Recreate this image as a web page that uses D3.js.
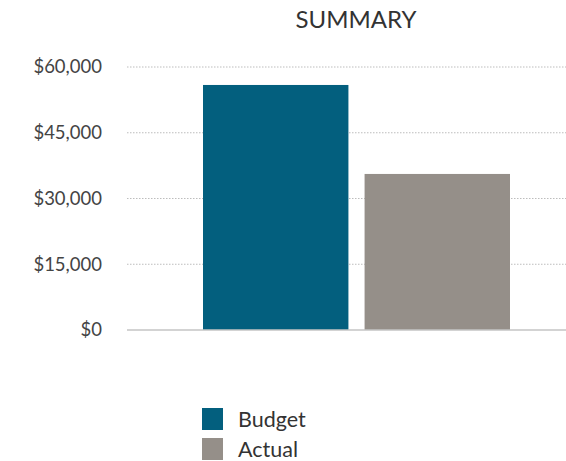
<!DOCTYPE html>
<html lang="en">
<head>
<meta charset="UTF-8">
<title>Summary</title>
<script src="https://d3js.org/d3.v7.min.js"></script>
<style>
  body { margin: 0; background: #fff; }
  text { font-family: Lato, "Open Sans", sans-serif; }
</style>
</head>
<body>
<script>
    // data
    var categories = ["Budget", "Actual"];
    var values = [55900, 35600];
    var colors = ["#035f7e", "#958f89"];
    var tickValues = [0, 15000, 30000, 45000, 60000];

    var width = 566, height = 461;

    var svg = d3.select("body").append("svg")
        .attr("width", width)
        .attr("height", height);

    var y = d3.scaleLinear().domain([0, 60000]).range([330, 67]);
    var x = d3.scaleBand().domain(categories).range([203, 510]).paddingInner(0.1).paddingOuter(0);

    // title
    svg.append("text")
        .attr("x", 356).attr("y", 28)
        .attr("text-anchor", "middle")
        .attr("font-size", 24)
        .attr("fill", "#333")
        .text("SUMMARY");

    // gridlines + labels
    var yAxis = svg.append("g")
        .attr("transform", "translate(127,0)")
        .call(d3.axisLeft(y).tickValues(tickValues).tickSize(0).tickPadding(25)
            .tickFormat(function (d) { return "$" + d3.format(",")(d); }));
    yAxis.select(".domain").remove();
    yAxis.selectAll("text")
        .attr("font-size", 18.5)
        .attr("fill", "#444")
        .attr("font-family", "Lato, sans-serif");

    svg.append("g").selectAll("line")
        .data(tickValues.filter(function (d) { return d > 0; }))
        .join("line")
        .attr("x1", 127).attr("x2", width)
        .attr("y1", function (d) { return y(d); })
        .attr("y2", function (d) { return y(d); })
        .attr("stroke", "#bdbdbd")
        .attr("stroke-width", 1)
        .attr("stroke-dasharray", "1.5,1.5");

    // bars
    svg.append("g").selectAll("rect")
        .data(values)
        .join("rect")
        .attr("x", function (d, i) { return x(categories[i]); })
        .attr("width", x.bandwidth())
        .attr("y", function (d) { return y(d); })
        .attr("height", function (d) { return y(0) - y(d); })
        .attr("fill", function (d, i) { return colors[i]; });

    // baseline
    svg.append("line")
        .attr("x1", 127).attr("x2", width)
        .attr("y1", y(0)).attr("y2", y(0))
        .attr("stroke", "#c4c4c4")
        .attr("stroke-width", 1.5);

    // legend
    var legend = svg.append("g").selectAll("g")
        .data(categories)
        .join("g")
        .attr("transform", function (d, i) { return "translate(202," + (408 + i * 30) + ")"; });
    legend.append("rect")
        .attr("width", 21).attr("height", 22)
        .attr("fill", function (d, i) { return colors[i]; });
    legend.append("text")
        .attr("x", 36).attr("y", 19)
        .attr("font-size", 21.5)
        .attr("fill", "#333")
        .text(function (d) { return d; });
</script>
</body>
</html>
